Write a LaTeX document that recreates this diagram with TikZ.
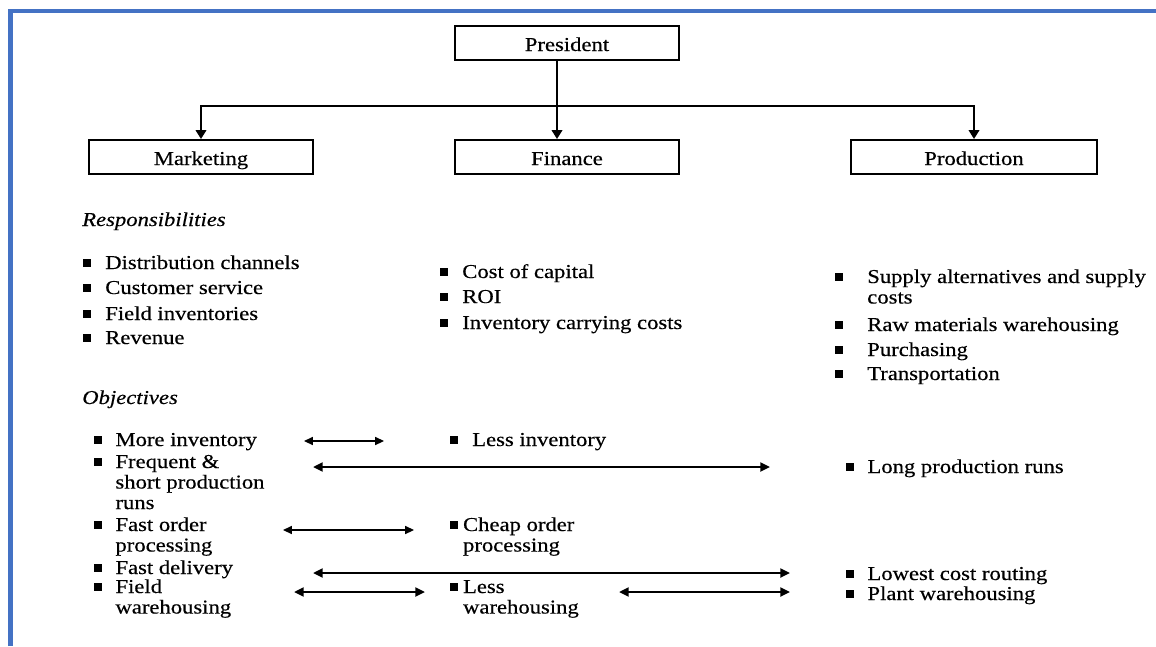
\documentclass[tikz,border=0pt]{standalone}
\usepackage{fontspec}
\setmainfont{Liberation Serif}[FakeStretch=1.15,FakeBold=0.4]
\usetikzlibrary{arrows.meta}
\definecolor{frameblue}{HTML}{4472C4}
\newcommand{\blt}[1][0.35cm]{\rule[0.06cm]{0.2cm}{0.18cm}\hspace{#1}}
\newcommand{\lines}[1]{\begin{tabular}[t]{@{}l@{}}#1\end{tabular}}

\begin{document}
\begin{tikzpicture}[x=0.025cm,y=-0.025cm,
    every node/.style={font=\fontsize{14}{14.6}\selectfont},
    dept/.style={draw,line width=0.05cm,minimum height=0.85cm,inner sep=0pt,
        text height=0.45cm,text depth=0.05cm},
    item/.style={anchor=base west,inner sep=0pt},
    heading/.style={anchor=base west,inner sep=0pt,font=\fontsize{14}{14.6}\selectfont\itshape},
    orgarrow/.style={line width=0.05cm,-{Triangle[length=0.22cm,width=0.26cm]}},
    thinarrow/.style={line width=0.03cm,{Triangle[length=0.22cm,width=0.2cm]}-{Triangle[length=0.22cm,width=0.2cm]}},
    thickarrow/.style={line width=0.065cm,{Triangle[length=0.24cm,width=0.22cm]}-{Triangle[length=0.24cm,width=0.22cm]}}]
      \useasboundingbox (0,0) rectangle (1156,646);
      \draw[frameblue,line width=0.11cm] (10.5,646) -- (10.5,11) -- (1156,11);
      % chart
      \node[dept,minimum width=5.6cm] (pres) at (567,43) {President};
      \node[dept,minimum width=5.6cm] (mkt) at (201,157) {Marketing};
      \node[dept,minimum width=5.6cm] (fin) at (567,157) {Finance};
      \node[dept,minimum width=6.125cm] (prod) at (974,157) {Production};
      \coordinate (bus) at (557,106);
      \draw[orgarrow] (pres.south -| bus) -- (fin.north -| bus);
      \draw[orgarrow] (bus) -| (mkt);
      \draw[orgarrow] (bus) -| (prod);
      % responsibilities
      \node[heading] (resp) at (82,226) {Responsibilities};
      \node[item] (m-dist) at (83,269) {\blt Distribution channels};
      \node[item] (m-cust) at (83,294) {\blt Customer service};
      \node[item] (m-field) at (83,320) {\blt Field inventories};
      \node[item] (m-rev) at (83,344) {\blt Revenue};
      \node[item] (f-cap) at (440,278) {\blt Cost of capital};
      \node[item] (f-roi) at (440,303) {\blt ROI};
      \node[item] (f-carry) at (440,329) {\blt Inventory carrying costs};
      \node[item] (p-supply) at (835,283) {\blt[0.6cm]\lines{Supply alternatives and supply\\costs}};
      \node[item] (p-raw) at (835,331) {\blt[0.6cm]Raw materials warehousing};
      \node[item] (p-purch) at (835,356) {\blt[0.6cm]Purchasing};
      \node[item] (p-trans) at (835,380) {\blt[0.6cm]Transportation};
      % objectives
      \node[heading] (obj) at (82,404) {Objectives};
      \node[item] (o-moreinv) at (94,446) {\blt[0.33cm]More inventory};
      \node[item] (o-freq) at (94,468) {\blt[0.33cm]\lines{Frequent \&\\short production\\runs}};
      \node[item] (o-fastord) at (94,531) {\blt[0.33cm]\lines{Fast order\\processing}};
      \node[item] (o-fastdel) at (94,574) {\blt[0.33cm]Fast delivery};
      \node[item] (o-fieldwh) at (94,593) {\blt[0.33cm]\lines{Field\\warehousing}};
      \node[item] (o-lessinv) at (450,446) {\blt Less inventory};
      \node[item] (o-cheapord) at (450,531) {\blt[0.12cm]\lines{Cheap order\\processing}};
      \node[item] (o-lesswh) at (450,593) {\blt[0.12cm]\lines{Less\\warehousing}};
      \node[item] (o-longrun) at (846,473) {\blt[0.33cm]Long production runs};
      \node[item] (o-lowcost) at (846,580) {\blt[0.33cm]Lowest cost routing};
      \node[item] (o-plantwh) at (846,600) {\blt[0.33cm]Plant warehousing};
      \coordinate (inv-l) at (304,441);
      \coordinate (inv-r) at (384,441);
      \coordinate (run-l) at (313,467);
      \coordinate (run-r) at (770,467);
      \coordinate (ord-l) at (283,530);
      \coordinate (ord-r) at (414,530);
      \coordinate (del-l) at (313,573);
      \coordinate (del-r) at (790,573);
      \coordinate (wh-l) at (294,592);
      \coordinate (wh-m) at (425,592);
      \coordinate (wh-n) at (619,592);
      \coordinate (wh-r) at (790,592);
      \path
      (inv-l) edge [thinarrow] (inv-r)
      (ord-l) edge [thinarrow] (ord-r);
      \path
      (run-l) edge [thickarrow] (run-r)
      (del-l) edge [thickarrow] (del-r)
      (wh-l) edge [thickarrow] (wh-m)
      (wh-n) edge [thickarrow] (wh-r);
\end{tikzpicture}
\end{document}
